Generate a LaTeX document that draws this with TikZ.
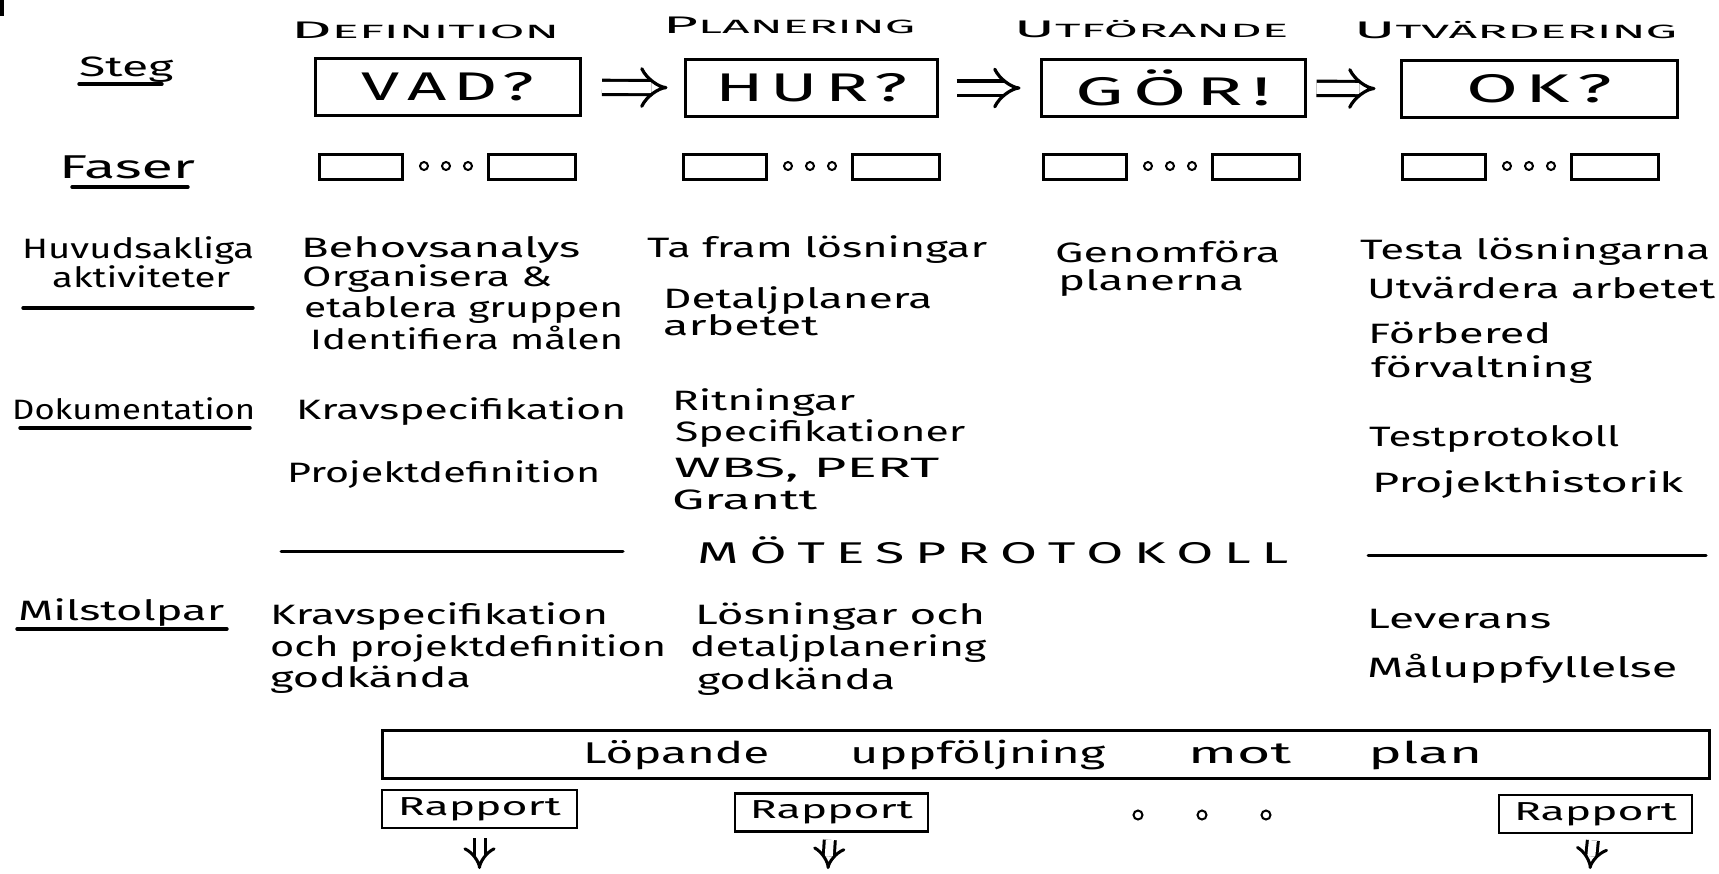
\documentclass[tikz,border=0pt]{standalone}
\usepackage{fontspec}
\setmainfont{Fira Sans}
\usepackage{graphicx}
\usetikzlibrary{arrows.meta}

% hand lettering face and a helper that stretches a word to a given width
\newcommand\hand{\rmfamily}
\newcommand\fit[2]{\resizebox{#1pt}{\height}{#2}}
\newcommand\capsmall[2]{#1\scalebox{.8}{#2}}

\begin{document}
\begin{tikzpicture}[x=1pt,y=-1pt,
  lbl/.style={anchor=base west, inner sep=0pt, font=\hand\fontsize{28}{32}\selectfont},
  rowlbl/.style={lbl, font=\hand\fontsize{28}{32}\selectfont},
  hdr/.style={lbl, font=\hand\fontsize{24}{28}\selectfont},
  stepbox/.style={draw, line width=3pt, inner sep=0pt, minimum height=57pt,
    font=\hand\fontsize{40}{46}\selectfont},
  phbox/.style={draw, line width=2.8pt, inner sep=0pt, minimum width=83pt,
    minimum height=25pt, anchor=north west},
  repbox/.style={draw, line width=2.8pt, inner sep=0pt, minimum height=38pt,
    font=\hand\fontsize{26}{30}\selectfont},
  dot/.style={circle, draw, line width=2pt, inner sep=0pt, minimum size=8pt},
  uline/.style={line width=3.4pt, line cap=round},
  rule/.style={line width=3pt, line cap=round},
  dblarrow/.style={double, double distance=11pt, line width=3.2pt, -{Implies}},
  downarrow/.style={double, double distance=8pt, line width=3pt, -{Implies}},
]
\useasboundingbox (0,0) rectangle (1719,873);
\fill (0,0) rectangle (4,16);

% ---- phase headings
\node[hdr] (hdef) at (291,38) {\fit{268}{\capsmall{D}{EFINITION}}};
\node[hdr] (hpla) at (663,33) {\fit{252}{\capsmall{P}{LANERING}}};
\node[hdr] (hutf) at (1014,37) {\fit{274}{\capsmall{U}{TFÖRANDE}}};
\node[hdr] (hutv) at (1354,38) {\fit{323}{\capsmall{U}{TVÄRDERING}}};

% ---- steps
\node[rowlbl] (steg) at (79,76) {\fit{94}{Steg}};
\draw[uline] (79,84) -- (162,84);

\node[stepbox, minimum width=265pt] (vad) at (448,87) {\fit{172}{V\hspace{4pt}A\hspace{4pt}D\hspace{3pt}?}};
\node[stepbox, minimum width=252pt] (hur) at (811,88) {\fit{192}{H\hspace{4pt}U\hspace{4pt}R\hspace{3pt}?}};
\node[stepbox, minimum width=264pt] (gor) at (1173,88) {\fit{196}{G\hspace{5pt}Ö\hspace{5pt}R\hspace{5pt}!}};
\node[stepbox, minimum width=276pt] (ok) at (1539,89) {\fit{146}{O\hspace{4pt}K\hspace{4pt}?}};

\draw[dblarrow, shorten <=20pt, shorten >=16pt] (vad) -- (hur);
\draw[dblarrow, shorten <=18pt, shorten >=19pt] (hur) -- (gor);
\draw[dblarrow, shorten <=10pt, shorten >=24pt] (gor) -- (ok);

% ---- phases
\node[rowlbl, font=\hand\fontsize{33}{37}\selectfont] (faser) at (59,178) {\fit{136}{Faser}};
\draw[uline] (72,187) -- (188,187);
\foreach \gx [count=\i] in {318,682,1042,1401} {
  \node[phbox] (f\i a) at (\gx,153) {};
  \node[phbox, minimum width=87pt] (f\i b) at (\gx+169,153) {};
  \foreach \d [count=\j] in {106,128,150}
    \node[dot] (f\i d\j) at (\gx+\d,166) {};
}

% ---- main activities
\node[rowlbl] (huv) at (22,258) {\fit{232}{Huvudsakliga}};
\node[rowlbl] (akt) at (52,287) {\fit{178}{aktiviteter}};
\draw[uline] (23,308) -- (253,308);

\node[lbl] (a11) at (301,257) {\fit{279}{Behovsanalys}};
\node[lbl] (a12) at (302,286) {\fit{250}{Organisera \&}};
\node[lbl] (a13) at (304,317) {\fit{319}{etablera gruppen}};
\node[lbl] (a14) at (310,349) {\fit{313}{Identifiera målen}};

\node[lbl] (a21) at (647,257) {\fit{340}{Ta fram lösningar}};
\node[lbl] (a22) at (663,308) {\fit{269}{Detaljplanera}};
\node[lbl] (a23) at (663,335) {\fit{155}{arbetet}};

\node[lbl] (a31) at (1055,262) {\fit{225}{Genomföra}};
\node[lbl] (a32) at (1058,290) {\fit{186}{planerna}};

\node[lbl] (a41) at (1360,259) {\fit{350}{Testa lösningarna}};
\node[lbl] (a42) at (1367,298) {\fit{348}{Utvärdera arbetet}};
\node[lbl] (a43) at (1368,343) {\fit{183}{Förbered}};
\node[lbl] (a44) at (1371,377) {\fit{221}{förvaltning}};

% ---- documentation
\node[rowlbl] (dok) at (12,419) {\fit{243}{Dokumentation}};
\draw[uline] (20,428) -- (250,428);

\node[lbl] (d11) at (296,419) {\fit{330}{Kravspecifikation}};
\node[lbl] (d12) at (287,482) {\fit{313}{Projektdefinition}};

\node[lbl] (d21) at (672,410) {\fit{183}{Ritningar}};
\node[lbl] (d22) at (675,441) {\fit{290}{Specifikationer}};
\node[lbl] (d23) at (674,477) {\fit{265}{WBS, PERT}};
\node[lbl] (d24) at (672,509) {\fit{145}{Grantt}};

\node[lbl] (d41) at (1369,446) {\fit{250}{Testprotokoll}};
\node[lbl] (d42) at (1372,492) {\fit{311}{Projekthistorik}};

% ---- meeting minutes
\draw[rule] (281,551) -- (623,551);
\node[lbl, font=\hand\fontsize{30}{34}\selectfont] (mote) at (697,563)
  {\fit{591}{M\hspace{6pt}Ö\hspace{6pt}T\hspace{6pt}E\hspace{6pt}S\hspace{6pt}P\hspace{6pt}R\hspace{6pt}O\hspace{6pt}T\hspace{6pt}O\hspace{6pt}K\hspace{6pt}O\hspace{6pt}L\hspace{6pt}L}};
\draw[rule] (1368,555) -- (1706,555);

% ---- milestones
\node[rowlbl] (mil) at (18,620) {\fit{206}{Milstolpar}};
\draw[uline] (17,629) -- (227,629);

\node[lbl] (m11) at (270,624) {\fit{338}{Kravspecifikation}};
\node[lbl] (m12) at (270,656) {\fit{396}{och projektdefinition}};
\node[lbl] (m13) at (270,687) {\fit{201}{godkända}};

\node[lbl] (m21) at (695,624) {\fit{290}{Lösningar och}};
\node[lbl] (m22) at (690,656) {\fit{296}{detaljplanering}};
\node[lbl] (m23) at (697,689) {\fit{198}{godkända}};

\node[lbl] (m41) at (1367,628) {\fit{184}{Leverans}};
\node[lbl] (m42) at (1367,677) {\fit{310}{Måluppfyllelse}};

% ---- follow-up against plan
\node[stepbox, minimum width=1327pt, minimum height=48pt] (lop) at (1045.5,754) {};
\node[lbl, font=\hand\fontsize{30}{34}\selectfont] (loptxt) at (583,763)
  {\fit{186}{Löpande}\hspace{81pt}\fit{255}{uppföljning}\hspace{83pt}\fit{103}{mot}\hspace{77pt}\fit{114}{plan}};

\node[repbox, minimum width=195pt] (r1) at (479.5,809) {\fit{163}{Rapport}};
\node[repbox, minimum width=193pt] (r2) at (831.5,812.5) {\fit{163}{Rapport}};
\node[repbox, minimum width=193pt] (r3) at (1595.5,814) {\fit{163}{Rapport}};

\node[dot, minimum size=9pt] (e1) at (1138,815) {};
\node[dot, minimum size=9pt] (e2) at (1202,815) {};
\node[dot, minimum size=9pt] (e3) at (1266,815) {};

\coordinate (o1) at (479.5,869);
\coordinate (o2) at (828,869);
\coordinate (o3) at (1590,869);
\draw[downarrow, shorten <=9pt] (r1) -- (o1);
\draw[downarrow, shorten <=7pt] (r2) -- (o2);
\draw[downarrow, shorten <=6pt] (r3) -- (o3);
\end{tikzpicture}
\end{document}
